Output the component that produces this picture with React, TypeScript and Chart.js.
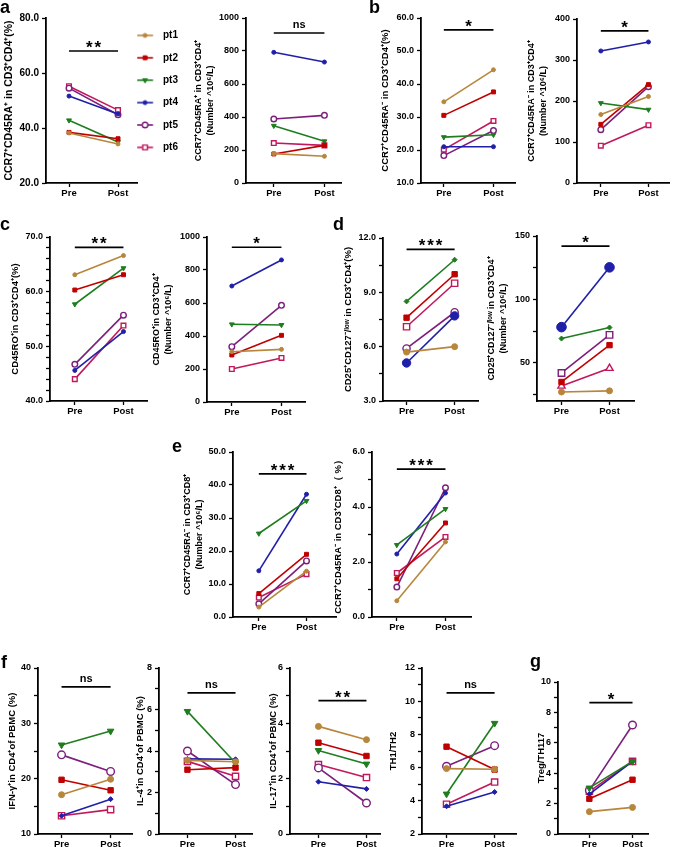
import React, { useEffect, useRef } from 'react';
import { Chart, registerables } from 'chart.js';
Chart.register(...registerables);

// ---------- data ----------
const PATIENTS = ['pt1', 'pt2', 'pt3', 'pt4', 'pt5', 'pt6'];
const COLORS = ['#B8863B', '#C00000', '#1E7D1E', '#1F1FA8', '#7B1F7B', '#C2185B'];
const X_LABELS = ['Pre', 'Post'];

// a
const A_PCT_PRE = [38.2, 38.4, 42.8, 51.6, 54.5, 55.2];
const A_PCT_POST = [34.2, 36.1, 34.9, 45.1, 44.8, 46.5];
const A_NUM_PRE = [178, 176, 347, 792, 388, 242];
const A_NUM_POST = [162, 228, 253, 733, 410, 228];
// b
const B_PCT_PRE = [34.6, 30.5, 23.9, 21.0, 18.3, 20.1];
const B_PCT_POST = [44.3, 37.6, 24.6, 21.0, 25.9, 28.8];
const B_NUM_PRE = [167, 143, 195, 322, 130, 91];
const B_NUM_POST = [211, 240, 179, 344, 235, 141];
// c
const C_PCT_PRE = [63.1, 60.3, 57.7, 45.6, 46.7, 44.0];
const C_PCT_POST = [66.6, 63.1, 64.3, 52.7, 55.7, 53.8];
const C_NUM_PRE = [305, 285, 471, 703, 335, 200];
const C_NUM_POST = [319, 404, 467, 861, 586, 267];
// d
const D_PCT_PRE = [5.7, 7.6, 8.5, 5.1, 5.9, 7.1];
const D_PCT_POST = [6.0, 10.0, 10.8, 7.7, 7.9, 9.5];
const D_NUM_PRE = [27.1, 35.0, 69.2, 78.2, 42.1, 31.8];
const D_NUM_POST = [28.0, 64.0, 77.9, 125.3, 72.1, 45.8];
// e
const E_NUM_PRE = [3.0, 7.1, 25.3, 14.0, 4.0, 5.9];
const E_NUM_POST = [13.9, 19.0, 35.2, 37.2, 17.0, 13.0];
const E_PCT_PRE = [0.59, 1.39, 2.62, 2.29, 1.09, 1.6];
const E_PCT_POST = [2.73, 3.42, 3.93, 4.51, 4.7, 2.91];
// f
const F_IFN_PRE = [17.1, 19.8, 26.1, 13.3, 24.3, 13.3];
const F_IFN_POST = [19.9, 17.9, 28.6, 16.3, 21.3, 14.4];
const F_IL4_PRE = [3.55, 3.1, 5.91, 3.62, 4.0, 3.5];
const F_IL4_POST = [3.48, 3.2, 3.42, 3.6, 2.38, 2.78];
const F_IL17_PRE = [3.89, 3.3, 3.02, 1.89, 2.39, 2.51];
const F_IL17_POST = [3.41, 2.82, 2.53, 1.63, 1.12, 2.04];
const F_TH_PRE = [5.94, 7.26, 4.41, 3.67, 6.08, 3.79];
const F_TH_POST = [5.9, 5.88, 8.67, 4.53, 7.32, 5.13];
// g
const G_PRE = [1.47, 2.32, 3.03, 2.63, 2.87, 2.81];
const G_POST = [1.75, 3.57, 4.78, 4.78, 7.17, 4.78];

// y tick labels
const A_PCT_TICKS = [20, 40, 60, 80];
const A_NUM_TICKS = [0, 200, 400, 600, 800, 1000];
const B_PCT_TICKS = [10, 20, 30, 40, 50, 60];
const B_NUM_TICKS = [0, 100, 200, 300, 400];
const C_PCT_TICKS = [40, 50, 60, 70];
const C_NUM_TICKS = [0, 200, 400, 600, 800, 1000];
const D_PCT_TICKS = [3, 6, 9, 12];
const D_NUM_TICKS = [50, 100, 150];
const E_NUM_TICKS = [0, 10, 20, 30, 40, 50];
const E_PCT_TICKS = [0, 2, 4, 6];
const F_IFN_TICKS = [10, 20, 30, 40];
const F_IL4_TICKS = [0, 2, 4, 6, 8];
const F_IL17_TICKS = [0, 2, 4, 6];
const F_TH_TICKS = [2, 4, 6, 8, 10, 12];
const G_TICKS = [0, 2, 4, 6, 8, 10];

// significance (panel order a1,a2,b1,b2,c1,c2,d1,d2,e1,e2,f1,f2,f3,f4,g)
const SIG_TEXT = ['**', 'ns', '*', '*', '**', '*', '***', '*', '***', '***', 'ns', 'ns', '**', 'ns', '*'];
const SIG_Y = [68, 909, 56.4, 371, 68.1, 938, 11.37, 142, 43.4, 5.38, 36.6, 6.8, 4.82, 10.5, 8.64];

// ---------- styles ----------
const FONT = "'Liberation Sans', Arial, Helvetica, sans-serif";
type Mk = { style: string; r: number; rot?: number; open?: boolean };
const MK_S: Mk[] = [
  { style: 'circle', r: 2 },
  { style: 'rect', r: 2.8 },
  { style: 'triangle', r: 2.8, rot: 180 },
  { style: 'circle', r: 2 },
  { style: 'circle', r: 2.8, open: true },
  { style: 'rect', r: 3.3, open: true },
];
const MK_DL: Mk[] = [
  { style: 'circle', r: 3 },
  { style: 'rect', r: 3.8 },
  { style: 'rectRot', r: 2.5 },
  { style: 'circle', r: 4.2 },
  { style: 'circle', r: 3.6, open: true },
  { style: 'rect', r: 4.4, open: true },
];
const MK_DR: Mk[] = [
  { style: 'circle', r: 3 },
  { style: 'rect', r: 3.8 },
  { style: 'rectRot', r: 2.5 },
  { style: 'circle', r: 4.8 },
  { style: 'rect', r: 4.6, open: true },
  { style: 'triangle', r: 4.2, open: true },
];
const MK_F: Mk[] = [
  { style: 'circle', r: 3 },
  { style: 'rect', r: 3.8 },
  { style: 'triangle', r: 3.8, rot: 180 },
  { style: 'rectRot', r: 2.5 },
  { style: 'circle', r: 3.8, open: true },
  { style: 'rect', r: 4.4, open: true },
];

const T_NUM = '(Number ^10⁶/L)';

interface PanelDef {
  pre: number[]; post: number[];
  yMin: number; yMax: number; major: number[]; minor: number; dec: number;
  title: string[]; titleSize: number; tickSize: number;
  axisX: number; axisEnd: number; preX: number; postX: number; top: number; bottom: number; titleC: number;
  markers: Mk[]; sig: number; legend?: boolean;
}

const PANELS: PanelDef[] = [
  { pre: A_PCT_PRE, post: A_PCT_POST, yMin: 20, yMax: 80, major: A_PCT_TICKS, minor: 0, dec: 1,
    title: ['CCR7⁺CD45RA⁺ in CD3⁺CD4⁺(%)'], titleSize: 10.5, tickSize: 10,
    axisX: 46, axisEnd: 137, preX: 69, postX: 118, top: 18, bottom: 183, titleC: 9, markers: MK_S, sig: 0, legend: true },
  { pre: A_NUM_PRE, post: A_NUM_POST, yMin: 0, yMax: 1000, major: A_NUM_TICKS, minor: 0, dec: 0,
    title: ['CCR7⁺CD45RA⁺ in CD3⁺CD4⁺', T_NUM], titleSize: 9, tickSize: 9,
    axisX: 246, axisEnd: 342, preX: 274, postX: 325, top: 18, bottom: 183, titleC: 199, markers: MK_S, sig: 1 },
  { pre: B_PCT_PRE, post: B_PCT_POST, yMin: 10, yMax: 60, major: B_PCT_TICKS, minor: 0, dec: 1,
    title: ['CCR7⁺CD45RA⁻ in CD3⁺CD4⁺(%)'], titleSize: 9.5, tickSize: 9,
    axisX: 421, axisEnd: 516, preX: 444, postX: 494, top: 18, bottom: 183, titleC: 385, markers: MK_S, sig: 2 },
  { pre: B_NUM_PRE, post: B_NUM_POST, yMin: 0, yMax: 400, major: B_NUM_TICKS, minor: 0, dec: 0,
    title: ['CCR7⁺CD45RA⁻ in CD3⁺CD4⁺', T_NUM], titleSize: 9, tickSize: 9,
    axisX: 577, axisEnd: 670, preX: 601, postX: 649, top: 19, bottom: 183, titleC: 532, markers: MK_S, sig: 3 },
  { pre: C_PCT_PRE, post: C_PCT_POST, yMin: 40, yMax: 70, major: C_PCT_TICKS, minor: 2, dec: 1,
    title: ['CD45RO⁺in CD3⁺CD4⁺(%)'], titleSize: 9.5, tickSize: 9,
    axisX: 50, axisEnd: 148, preX: 75, postX: 124, top: 237, bottom: 401, titleC: 15, markers: MK_S, sig: 4 },
  { pre: C_NUM_PRE, post: C_NUM_POST, yMin: 0, yMax: 1000, major: C_NUM_TICKS, minor: 0, dec: 0,
    title: ['CD45RO⁺in CD3⁺CD4⁺', T_NUM], titleSize: 9, tickSize: 9,
    axisX: 207, axisEnd: 306, preX: 232, postX: 282, top: 237, bottom: 402, titleC: 157, markers: MK_S, sig: 5 },
  { pre: D_PCT_PRE, post: D_PCT_POST, yMin: 3, yMax: 12, major: D_PCT_TICKS, minor: 1.5, dec: 1,
    title: ['CD25⁺CD127⁻/ˡᵒʷ in CD3⁺CD4⁺(%)'], titleSize: 9.5, tickSize: 9,
    axisX: 383, axisEnd: 480, preX: 407, postX: 456, top: 238, bottom: 401, titleC: 348, markers: MK_DL, sig: 6 },
  { pre: D_NUM_PRE, post: D_NUM_POST, yMin: 20, yMax: 150, major: D_NUM_TICKS, minor: 25, dec: 0,
    title: ['CD25⁺CD127⁻/ˡᵒʷ in CD3⁺CD4⁺', T_NUM], titleSize: 9, tickSize: 9,
    axisX: 537, axisEnd: 636, preX: 562, postX: 611, top: 236, bottom: 401, titleC: 492, markers: MK_DR, sig: 7 },
  { pre: E_NUM_PRE, post: E_NUM_POST, yMin: 0, yMax: 50, major: E_NUM_TICKS, minor: 0, dec: 1,
    title: ['CCR7⁺CD45RA⁻ in CD3⁺CD8⁺', T_NUM], titleSize: 9, tickSize: 9,
    axisX: 233, axisEnd: 337, preX: 259, postX: 307, top: 452, bottom: 617, titleC: 188, markers: MK_S, sig: 8 },
  { pre: E_PCT_PRE, post: E_PCT_POST, yMin: 0, yMax: 6, major: E_PCT_TICKS, minor: 1, dec: 1,
    title: ['CCR7⁺CD45RA⁻ in CD3⁺CD8⁺（ %）'], titleSize: 9.5, tickSize: 9,
    axisX: 372, axisEnd: 472, preX: 397, postX: 446, top: 452, bottom: 617, titleC: 338, markers: MK_S, sig: 9 },
  { pre: F_IFN_PRE, post: F_IFN_POST, yMin: 10, yMax: 40, major: F_IFN_TICKS, minor: 5, dec: 0,
    title: ['IFN-γ⁺in CD4⁺of PBMC (%)'], titleSize: 9.5, tickSize: 9,
    axisX: 38, axisEnd: 134, preX: 62, postX: 112, top: 668, bottom: 834, titleC: 12, markers: MK_F, sig: 10 },
  { pre: F_IL4_PRE, post: F_IL4_POST, yMin: 0, yMax: 8, major: F_IL4_TICKS, minor: 1, dec: 0,
    title: ['IL-4⁺in CD4⁺of PBMC (%)'], titleSize: 9.5, tickSize: 9,
    axisX: 159, axisEnd: 254, preX: 188, postX: 237, top: 668, bottom: 834, titleC: 140, markers: MK_F, sig: 11 },
  { pre: F_IL17_PRE, post: F_IL17_POST, yMin: 0, yMax: 6, major: F_IL17_TICKS, minor: 1, dec: 0,
    title: ['IL-17⁺in CD4⁺of PBMC (%)'], titleSize: 9.5, tickSize: 9,
    axisX: 290, axisEnd: 382, preX: 319, postX: 368, top: 668, bottom: 834, titleC: 273, markers: MK_F, sig: 12 },
  { pre: F_TH_PRE, post: F_TH_POST, yMin: 2, yMax: 12, major: F_TH_TICKS, minor: 1, dec: 0,
    title: ['TH1/TH2'], titleSize: 9.5, tickSize: 9,
    axisX: 422, axisEnd: 518, preX: 447, postX: 496, top: 668, bottom: 834, titleC: 393, markers: MK_F, sig: 13 },
  { pre: G_PRE, post: G_POST, yMin: 0, yMax: 10, major: G_TICKS, minor: 1, dec: 0,
    title: ['Treg/TH117'], titleSize: 9.5, tickSize: 9,
    axisX: 558, axisEnd: 650, preX: 590, postX: 634, top: 682, bottom: 834, titleC: 541, markers: MK_F, sig: 14 },
];

const LETTERS = [
  { t: 'a', x: 0, b: 13.5 }, { t: 'b', x: 369, b: 13.5 }, { t: 'c', x: 0, b: 230 }, { t: 'd', x: 333, b: 230 },
  { t: 'e', x: 172, b: 452 }, { t: 'f', x: 1, b: 668 }, { t: 'g', x: 530, b: 667 },
];

// ---------- layout constants ----------
const PT = 12, HX = 22, PR = 4;
const LEG_WIDTH = 45, LEG_PAD = 12.4, LEG_BOX = 8.6, LEG_IMG_W = 40, LEG_IMG_H = 12;

function geometry(p: PanelDef) {
  const lh = p.titleSize * 1.3;
  const left = Math.round(p.titleC - lh / 2);
  const wy = p.axisX - left;
  const top = p.top - PT;
  const width = wy + (p.axisEnd - p.axisX) + (p.legend ? LEG_WIDTH : PR);
  const height = (p.bottom - p.top) + PT + HX;
  return { left, top, width, height, wy, lh };
}

function drawMarker(g: CanvasRenderingContext2D, mk: Mk, x: number, y: number, color: string) {
  g.save();
  g.fillStyle = mk.open ? '#fff' : color;
  g.strokeStyle = color;
  g.lineWidth = mk.open ? 1.4 : 1;
  g.beginPath();
  const r = mk.r;
  if (mk.style === 'circle') g.arc(x, y, r, 0, Math.PI * 2);
  else if (mk.style === 'rect') { const s = r * Math.SQRT1_2; g.rect(x - s, y - s, 2 * s, 2 * s); }
  else if (mk.style === 'triangle') {
    const d = mk.rot ? -1 : 1;
    g.moveTo(x, y - d * r); g.lineTo(x + r * 0.87, y + d * r * 0.5); g.lineTo(x - r * 0.87, y + d * r * 0.5); g.closePath();
  } else { g.moveTo(x, y - r); g.lineTo(x + r, y); g.lineTo(x, y + r); g.lineTo(x - r, y); g.closePath(); }
  g.fill(); g.stroke();
  g.restore();
}

function legendImage(i: number, mk: Mk) {
  const c = document.createElement('canvas');
  c.width = LEG_IMG_W; c.height = LEG_IMG_H;
  const g = c.getContext('2d')!;
  const off = LEG_IMG_W / 2 - (LEG_PAD + LEG_BOX / 2);
  const y = LEG_IMG_H / 2;
  g.strokeStyle = COLORS[i]; g.lineWidth = 1.6;
  g.beginPath(); g.moveTo(off, y); g.lineTo(off + 16, y); g.stroke();
  drawMarker(g, mk, off + 8, y, COLORS[i]);
  return c;
}

const sigPlugin = {
  id: 'sig',
  afterDatasetsDraw(chart: any, _a: any, opts: any) {
    const { ctx } = chart;
    const xs = chart.scales.x, ys = chart.scales.y;
    const cx = (xs.getPixelForValue(0) + xs.getPixelForValue(1)) / 2;
    const by = ys.getPixelForValue(opts.value);
    ctx.save();
    ctx.fillStyle = '#000';
    ctx.textAlign = 'center';
    ctx.textBaseline = 'alphabetic';
    if (opts.text === 'ns') {
      ctx.font = `bold 11px ${FONT}`;
      ctx.fillText('ns', cx, by - 5);
    } else {
      ctx.font = `bold 17px ${FONT}`;
      const n = opts.text.length;
      for (let k = 0; k < n; k++) ctx.fillText('*', cx + (k - (n - 1) / 2) * 8.5, by + 2);
    }
    ctx.restore();
  },
};

function buildConfig(p: PanelDef): any {
  const geo = geometry(p);
  const font = (size: number) => ({ family: FONT, size, weight: 'bold' as const });
  const span = p.postX - p.preX;
  const xMin = -(p.preX - p.axisX) / span;
  const xMax = (p.axisEnd - p.preX) / span;
  const ticks: number[] = [...p.major];
  if (p.minor > 0) {
    for (let v = Math.ceil(p.yMin / p.minor - 1e-9) * p.minor; v <= p.yMax + 1e-9; v += p.minor) {
      if (!ticks.some((t) => Math.abs(t - v) < 1e-6)) ticks.push(+v.toFixed(6));
    }
  }
  ticks.sort((a, b) => a - b);
  const isMajor = (v: number) => p.major.some((t) => Math.abs(t - v) < 1e-6);

  const datasets: any[] = PATIENTS.map((name, i) => {
    const mk = p.markers[i];
    return {
      label: name,
      data: [{ x: 0, y: p.pre[i] }, { x: 1, y: p.post[i] }],
      borderColor: COLORS[i],
      backgroundColor: COLORS[i],
      borderWidth: 1.6,
      pointStyle: mk.style,
      pointRadius: mk.r,
      pointHoverRadius: mk.r,
      pointRotation: mk.rot || 0,
      pointBackgroundColor: mk.open ? '#ffffff' : COLORS[i],
      pointBorderColor: COLORS[i],
      pointBorderWidth: mk.open ? 1.4 : 1,
      fill: false,
      tension: 0,
      clip: false,
    };
  });
  datasets.push({
    label: 'sig',
    data: [{ x: 0, y: SIG_Y[p.sig] }, { x: 1, y: SIG_Y[p.sig] }],
    borderColor: '#000',
    borderWidth: 1.7,
    pointRadius: 0,
    fill: false,
    clip: false,
  });

  const legendImgs = p.legend ? PATIENTS.map((_, i) => legendImage(i, p.markers[i])) : [];

  return {
    type: 'line',
    data: { datasets },
    options: {
      animation: false,
      responsive: false,
      devicePixelRatio: 1,
      events: [],
      layout: { padding: { top: PT, right: p.legend ? 0 : PR, left: 0, bottom: 0 } },
      plugins: {
        tooltip: { enabled: false },
        sig: { text: SIG_TEXT[p.sig], value: SIG_Y[p.sig] },
        legend: p.legend
          ? {
              display: true,
              position: 'right',
              align: 'start',
              maxWidth: LEG_WIDTH,
              labels: {
                usePointStyle: true,
                pointStyleWidth: LEG_BOX,
                padding: LEG_PAD,
                color: '#000',
                font: font(10),
                generateLabels: () =>
                  PATIENTS.map((name, i) => ({
                    text: name,
                    pointStyle: legendImgs[i],
                    fillStyle: COLORS[i],
                    strokeStyle: COLORS[i],
                    lineWidth: 0,
                    hidden: false,
                    datasetIndex: i,
                  })),
              },
            }
          : { display: false },
      },
      scales: {
        x: {
          type: 'linear',
          min: xMin,
          max: xMax,
          afterBuildTicks: (s: any) => { s.ticks = [{ value: 0 }, { value: 1 }]; },
          afterFit: (s: any) => { s.height = HX; },
          ticks: {
            autoSkip: false,
            maxRotation: 0,
            padding: 1,
            color: '#000',
            font: font(9.5),
            callback: (v: any) => X_LABELS[Math.round(v)] ?? '',
          },
          grid: { display: true, drawOnChartArea: false, drawTicks: true, tickLength: 4, tickColor: '#000', tickWidth: 1.3, color: '#000' },
          border: { display: true, color: '#000', width: 1.8 },
        },
        y: {
          type: 'linear',
          min: p.yMin,
          max: p.yMax,
          afterBuildTicks: (s: any) => { s.ticks = ticks.map((v) => ({ value: v })); },
          afterFit: (s: any) => { s.width = geo.wy; },
          ticks: {
            autoSkip: false,
            padding: 3,
            color: '#000',
            font: font(p.tickSize),
            callback: (v: any) => (isMajor(v) ? Number(v).toFixed(p.dec) : ''),
          },
          grid: { display: true, drawOnChartArea: false, drawTicks: true, tickLength: 4, tickColor: '#000', tickWidth: 1.3, color: '#000' },
          border: { display: true, color: '#000', width: 1.8 },
          title: {
            display: true,
            text: p.title.length === 1 ? p.title[0] : p.title,
            color: '#000',
            padding: 0,
            font: { family: FONT, size: p.titleSize, weight: 'bold', lineHeight: 1.3 },
          },
        },
      },
    },
    plugins: [sigPlugin],
  };
}

function Panel({ p }: { p: PanelDef }) {
  const ref = useRef<HTMLCanvasElement>(null);
  const geo = geometry(p);
  useEffect(() => {
    const chart = new Chart(ref.current as HTMLCanvasElement, buildConfig(p));
    return () => chart.destroy();
  }, []);
  return (
    <canvas
      ref={ref}
      width={geo.width}
      height={geo.height}
      style={{ position: 'absolute', left: geo.left, top: geo.top, width: geo.width, height: geo.height }}
    />
  );
}

export default function App() {
  return (
    <div style={{ position: 'absolute', left: 0, top: 0, width: 674, height: 847, background: '#fff', overflow: 'hidden' }}>
      {PANELS.map((p, i) => (
        <Panel key={i} p={p} />
      ))}
      {LETTERS.map((l) => (
        <div
          key={l.t}
          style={{
            position: 'absolute',
            left: l.x,
            top: l.b - 15.2,
            fontFamily: FONT,
            fontWeight: 'bold',
            fontSize: 18,
            lineHeight: '18px',
            color: '#000',
          }}
        >
          {l.t}
        </div>
      ))}
    </div>
  );
}
